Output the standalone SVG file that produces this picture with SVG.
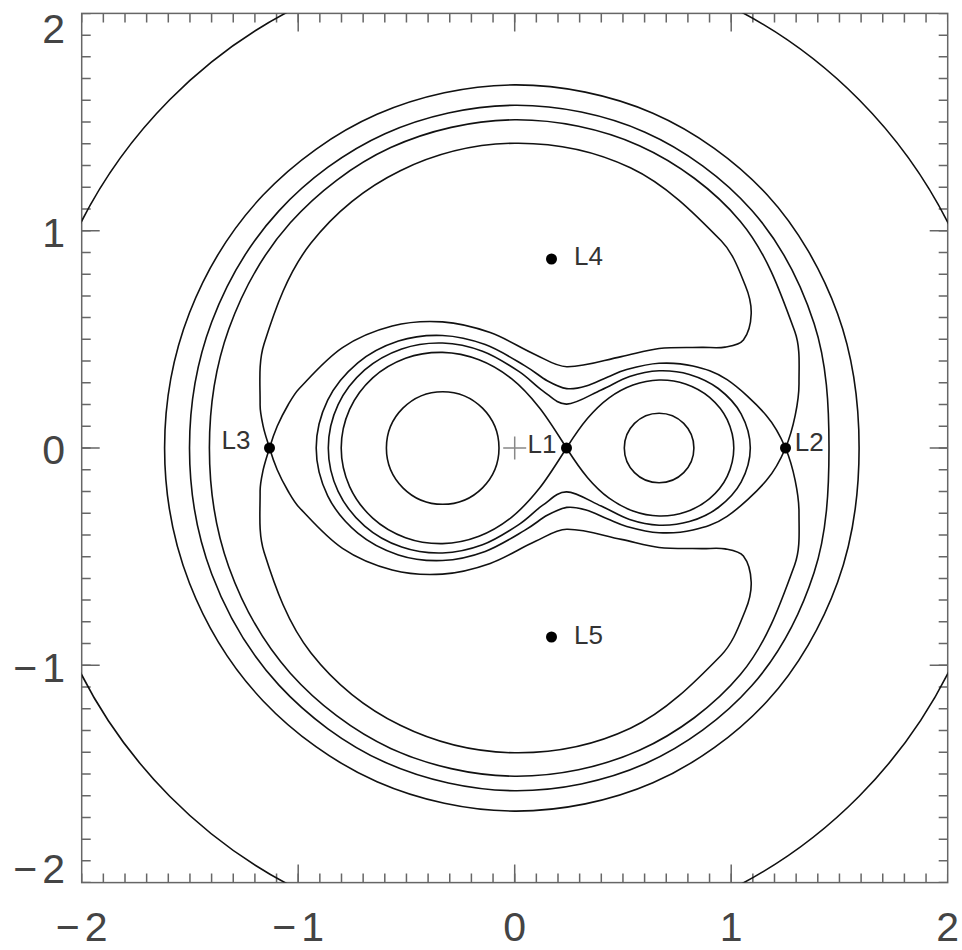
<svg xmlns="http://www.w3.org/2000/svg" xmlns:xlink="http://www.w3.org/1999/xlink" width="962" height="950" viewBox="0 0 962 950">
<style>
.c{fill:none;stroke:#111;stroke-width:1.6;stroke-linejoin:round}
.ax{fill:none;stroke:#666;stroke-width:1.5}
.tk{fill:none;stroke:#666;stroke-width:9}
.lab{font-family:"Liberation Sans",Arial,sans-serif;font-size:41px;fill:#444}
.pl{font-family:"Liberation Sans",Arial,sans-serif;font-size:26px;fill:#333}
.dot{fill:#000}
</style>
<defs>
<clipPath id="plotclip"><rect x="81.7" y="13.4" width="866" height="869.2"/></clipPath>
</defs>
<rect width="962" height="950" fill="#fff"/>
<g id="axes">
<rect class="ax" x="81.7" y="13.4" width="866" height="869.2"/>
<line class="tk" x1="81.7" y1="878.1" x2="947.7" y2="878.1" stroke-dasharray="1.5 20.15" stroke-dashoffset="0.75"/>
<line class="tk" x1="81.7" y1="17.9" x2="947.7" y2="17.9" stroke-dasharray="1.5 20.15" stroke-dashoffset="0.75"/>
<line class="tk" x1="86.2" y1="882.6" x2="86.2" y2="13.4" stroke-dasharray="1.5 20.23" stroke-dashoffset="0.75"/>
<line class="tk" x1="943.2" y1="882.6" x2="943.2" y2="13.4" stroke-dasharray="1.5 20.23" stroke-dashoffset="0.75"/>
<path class="ax" d="M298.2,882.6V864.6M514.7,882.6V864.6M731.2,882.6V864.6M298.2,13.4V31.4M514.7,13.4V31.4M731.2,13.4V31.4M81.7,230.7H99.7M81.7,448H99.7M81.7,665.3H99.7M947.7,230.7H929.7M947.7,448H929.7M947.7,665.3H929.7"/>
</g>
<g id="axis-labels" class="lab">
<text x="65" y="42.7" text-anchor="end">2</text>
<text x="65" y="246.7" text-anchor="end">1</text>
<text x="65" y="464.3" text-anchor="end">0</text>
<text x="65" y="681.8" text-anchor="end">−<tspan dx="5">1</tspan></text>
<text x="65" y="883" text-anchor="end">−<tspan dx="5">2</tspan></text>
<text x="81.7" y="940.5" text-anchor="middle">−<tspan dx="5">2</tspan></text>
<text x="298.2" y="940.5" text-anchor="middle">−<tspan dx="5">1</tspan></text>
<text x="514.7" y="940.5" text-anchor="middle">0</text>
<text x="731.2" y="940.5" text-anchor="middle">1</text>
<text x="947.7" y="940.5" text-anchor="middle">2</text>
</g>
<g id="contours">
<ellipse class="c" cx="514.4" cy="448" rx="487.5" ry="492.5" clip-path="url(#plotclip)"/>
<circle class="c" cx="442.7" cy="448" r="56.3"/>
<circle class="c" cx="659.1" cy="448" r="34.8"/>
<g id="upper">
<path class="c" d="M164.6,448 C164.6,402.9 173.1,354.9 189.5,312.8 C205.9,270.7 231.7,228.4 262.9,195.3 C294.2,162.2 335.0,132.7 377.0,114.3 C419.0,95.9 468.7,85.1 514.7,84.9 C560.7,84.7 610.8,94.9 652.9,113.2 C695.0,131.5 736.3,161.3 767.1,194.7 C797.9,228.1 822.3,271.5 837.6,313.7 C852.9,355.9 859.1,403.2 859.1,448"/>
<path class="c" d="M189.5,448 C189.5,406.0 196.8,361.5 211.7,322.0 C226.6,282.5 249.8,242.5 278.7,211.1 C307.6,179.7 345.7,151.3 385.0,133.7 C424.3,116.1 471.4,105.6 514.7,105.3 C558.0,105.0 605.5,114.7 645.0,132.2 C684.5,149.7 723.5,178.3 751.7,210.2 C779.9,242.1 801.2,283.9 814.1,323.5 C827.0,363.1 829.0,406.5 829.0,448"/>
<path class="c" d="M209.4,448 C209.4,408.4 215.3,366.6 228.8,329.1 C242.3,291.6 263.3,253.1 290.3,222.8 C317.3,192.6 353.3,164.8 390.7,147.6 C428.1,130.4 473.3,120.1 514.7,119.8 C556.2,119.5 601.8,128.8 639.4,145.7 C677.0,162.6 714.5,190.4 740.4,221.4 C766.7,252.8 780.8,293.1 794.8,331.6 C800.6,347.7 798.9,365.7 799.0,382.8 C799.1,393.7 797.4,404.7 795.2,415.4 C792.9,426.5 789.9,437.6 785.5,448"/>
<path class="c" d="M316.2,448 C316.2,432.1 320.8,414.4 327.7,400.2 C334.6,386.0 346.0,372.8 357.8,362.9 C369.6,353.1 384.3,345.7 398.4,341.1 C412.5,336.5 428.0,334.9 442.5,335.5 C457.0,336.1 471.5,339.6 485.2,344.6 C498.9,349.6 514.3,359.6 524.6,365.6 C534.9,371.6 540.2,376.9 547.2,380.7 C554.2,384.5 560.2,387.7 566.7,388.6 C573.2,389.5 579.3,388.0 586.1,386.0 C593.0,384.1 601.0,379.6 607.8,376.9 C614.6,374.2 618.2,371.9 626.7,369.6 C635.2,367.3 648.0,363.9 659.0,363.3 C670.0,362.7 681.6,363.3 692.9,366.0 C704.3,368.7 714.9,371.5 727.1,379.7 C739.3,387.9 756.6,404.0 766.3,415.4 C776.0,426.8 780.6,436.4 785.5,448"/>
<path class="c" d="M269.5,448 C267.3,440.8 264.8,433.7 263.2,426.3 C261.7,419.1 260.0,411.8 260.1,404.5 C260.3,384.2 258.0,363.1 264.1,343.8 C275.2,308.6 288.0,272.3 310.8,243.3 C334.5,213.1 365.8,187.6 400.3,170.7 C435.5,153.4 475.5,143.7 514.7,143.2 C554.1,142.7 594.8,150.9 630.4,167.7 C665.5,184.3 694.1,213.0 721.2,240.8 C733.0,252.9 738.9,269.8 745.3,285.5 C749.0,294.4 751.5,304.1 751.2,313.7 C750.9,322.8 749.0,332.7 743.4,339.9 C739.4,345.1 731.6,345.9 725.1,347.1 C717.5,348.5 709.6,347.2 701.9,347.4 C687.6,347.7 673.3,346.9 659.1,348.5 C646.3,350.0 634.0,354.1 621.3,356.6 C603.2,360.2 585.2,367.1 566.7,366.7 C555.6,366.5 545.7,359.2 535.5,354.7 C520.2,347.9 506.0,338.2 490.2,332.6 C474.8,327.2 458.8,323.0 442.5,321.9 C425.7,320.8 408.5,321.8 392.2,326.0 C374.7,330.5 357.5,337.5 342.5,347.6 C326.1,358.7 313.0,374.1 299.3,388.5 C294.8,393.2 291.6,398.9 288.3,404.5 C284.2,411.6 280.4,418.8 277.2,426.3 C274.2,433.3 271.7,440.7 269.5,448 Z"/>
<path class="c" d="M328.3,448 C328.3,433.5 332.0,417.6 338.1,404.6 C344.2,391.6 354.1,379.2 364.7,369.9 C375.3,360.6 388.7,353.4 401.7,348.9 C414.7,344.4 429.0,342.6 442.5,343.0 C456.0,343.4 469.8,346.5 482.5,351.2 C495.2,355.9 508.8,364.8 518.8,371.4 C528.9,378.0 534.8,385.4 542.8,390.8 C550.8,396.3 557.0,404.3 566.7,404.1 C576.4,404.0 590.7,394.5 601.2,389.9 C611.7,385.3 620.0,379.7 629.6,376.5 C639.3,373.3 649.1,371.2 659.1,370.8 C669.1,370.5 679.5,371.5 689.4,374.4 C699.3,377.4 709.7,381.9 718.3,388.5 C726.9,395.1 735.8,404.0 741.1,413.9 C746.4,423.8 750.3,436.6 750.3,448"/>
<path class="c" d="M341.2,448 C341.2,435.1 344.4,421.1 349.6,409.4 C354.9,397.7 363.4,386.4 372.7,377.9 C382.0,369.4 393.9,362.6 405.5,358.3 C417.1,354.1 430.3,352.2 442.5,352.4 C454.8,352.7 467.5,355.4 479.0,359.8 C490.5,364.2 501.4,370.7 511.5,378.7 C521.6,386.7 530.2,396.2 539.4,407.7 C548.6,419.3 557.8,434.4 566.5,448"/>
<path class="c" d="M566.5,448 C573.0,437.8 580.5,426.7 587.6,418.3 C594.7,409.9 601.5,403.4 609.1,397.8 C616.7,392.3 624.7,388.0 633.0,385.0 C641.3,382.0 650.4,380.2 659.1,380.0 C667.9,379.8 677.1,381.0 685.5,383.9 C693.9,386.8 702.7,391.4 709.6,397.3 C716.6,403.3 723.2,411.2 727.2,419.6 C731.2,428.1 733.8,438.5 733.8,448"/>
</g>
<use xlink:href="#upper" href="#upper" transform="matrix(1 0 0 -1 0 896)"/>
</g>
<path id="origin" d="M503.2,448H526.2M514.7,436.5V459.5" fill="none" stroke="#888" stroke-width="1.5"/>
<g id="L1"><circle class="dot" cx="566.5" cy="448" r="5.5"/><text class="pl" x="527.5" y="453">L1</text></g>
<g id="L2"><circle class="dot" cx="785.5" cy="448" r="5.5"/><text class="pl" x="794.8" y="451">L2</text></g>
<g id="L3"><circle class="dot" cx="269.5" cy="448" r="5.5"/><text class="pl" x="221.5" y="449">L3</text></g>
<g id="L4"><circle class="dot" cx="551.5" cy="259" r="5.5"/><text class="pl" x="574" y="265">L4</text></g>
<g id="L5"><circle class="dot" cx="551.5" cy="637" r="5.5"/><text class="pl" x="574" y="644">L5</text></g>
</svg>
